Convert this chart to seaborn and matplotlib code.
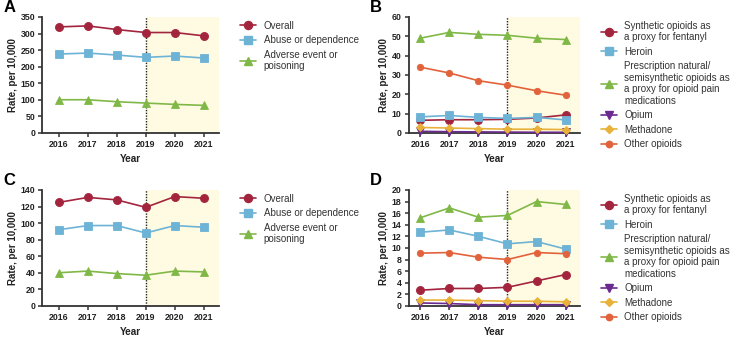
import pandas as pd
import seaborn as sns
import matplotlib.pyplot as plt
from matplotlib.lines import Line2D

# Data
years = [2016, 2017, 2018, 2019, 2020, 2021]

a_overall = [320, 323, 312, 303, 303, 293]
a_abuse = [238, 241, 235, 228, 232, 226]
a_adverse = [100, 100, 94, 90, 86, 83]

c_overall = [125, 131, 128, 119, 132, 130]
c_abuse = [92, 97, 97, 88, 97, 95]
c_adverse = [40, 42, 39, 37, 42, 41]

b_synthetic = [6.5, 6.8, 6.8, 7.0, 7.7, 9.3]
b_heroin = [8.3, 9.0, 8.0, 7.5, 8.0, 6.7]
b_prescription = [49, 52, 51, 50.5, 49, 48.3]
b_opium = [0.8, 0.6, 0.5, 0.4, 0.3, 0.3]
b_methadone = [2.8, 2.5, 2.2, 1.9, 1.9, 1.7]
b_other = [34, 31, 27, 24.7, 21.8, 19.5]

d_synthetic = [2.7, 3.0, 3.0, 3.2, 4.3, 5.4]
d_heroin = [12.7, 13.1, 12.0, 10.7, 11.1, 9.8]
d_prescription = [15.2, 16.9, 15.3, 15.6, 18.0, 17.5]
d_opium = [0.5, 0.4, 0.2, 0.2, 0.2, 0.2]
d_methadone = [1.0, 1.0, 0.9, 0.8, 0.8, 0.7]
d_other = [9.1, 9.2, 8.4, 8.0, 9.2, 9.0]

left_labels = ["Overall", "Abuse or dependence", "Adverse event or\npoisoning"]
right_labels = ["Synthetic opioids as\na proxy for fentanyl", "Heroin",
                "Prescription natural/\nsemisynthetic opioids as\na proxy for opioid pain\nmedications",
                "Opium", "Methadone", "Other opioids"]

RED = "#A3243D"
BLUE = "#6DB3D6"
GREEN = "#80B847"
PURPLE = "#6B2A90"
GOLD = "#E8B23A"
ORANGE = "#E2623B"

left_colors = [RED, BLUE, GREEN]
left_markers = ["o", "s", "^"]
right_colors = [RED, BLUE, GREEN, PURPLE, GOLD, ORANGE]
right_markers = ["o", "s", "^", "v", "D", "o"]
right_sizes = [5.8, 5.8, 5.8, 5.8, 3.6, 4.6]

sns.set_style("ticks")
plt.rcParams['font.family'] = ['Liberation Sans', 'DejaVu Sans']

fig = plt.figure(figsize=(7.39, 3.46), dpi=100)

boxes = {
    "A": [0.057, 0.616, 0.239, 0.335],
    "C": [0.057, 0.116, 0.239, 0.335],
    "B": [0.553, 0.616, 0.232, 0.335],
    "D": [0.553, 0.116, 0.232, 0.335],
}


def make_long(series, labels):
    rows = []
    for vals, lab in zip(series, labels):
        for y, v in zip(years, vals):
            rows.append({"Year": y, "Rate": v, "Series": lab})
    return pd.DataFrame(rows)


def draw_panel(key, series, labels, colors, markers, sizes, ymax, ystep, xlim):
    ax = fig.add_axes(boxes[key])
    df = make_long(series, labels)
    ax.axvspan(2019, xlim[1], color="#FFFBE3", zorder=0, lw=0)
    for (lab, col, mk, ms) in zip(labels, colors, markers, sizes):
        sub = df[df["Series"] == lab]
        sns.lineplot(data=sub, x="Year", y="Rate", color=col, marker=mk,
                     markersize=ms, markeredgecolor=col, markeredgewidth=0.6,
                     linewidth=1.2, ax=ax, legend=False, zorder=3, clip_on=False)
    ax.axvline(2019, color="#222222", linestyle=(0, (1, 1)), linewidth=1.0, zorder=2)
    ax.set_xlim(*xlim)
    ax.set_ylim(0, ymax)
    ax.set_xticks(years)
    ax.set_yticks(range(0, ymax + 1, ystep))
    ax.tick_params(labelsize=6.3, width=1.1, length=3, color="#333333", pad=2)
    for t in ax.get_xticklabels() + ax.get_yticklabels():
        t.set_fontweight("bold")
        t.set_color("#222222")
    ax.set_xlabel("Year", fontsize=7.2, fontweight="bold", color="#222222", labelpad=4)
    ax.set_ylabel("Rate, per 10,000", fontsize=7, fontweight="bold", color="#222222", labelpad=2)
    for s in ["top", "right"]:
        ax.spines[s].set_visible(False)
    for s in ["left", "bottom"]:
        ax.spines[s].set_linewidth(1.3)
        ax.spines[s].set_color("#333333")
    pos = ax.get_position()
    fig.text(pos.x0 - 0.052, pos.y1 + 0.028, key, fontsize=12, fontweight="bold",
             ha="left", va="center", color="black")
    handles = [Line2D([0], [0], color=c, marker=m, markersize=s, linewidth=1.2,
                      markeredgecolor=c) for c, m, s in zip(colors, markers, sizes)]
    ax.legend(handles, labels, loc="upper left", bbox_to_anchor=(1.1, 1.0),
              frameon=False, fontsize=7, handlelength=1.6, handletextpad=0.8,
              labelspacing=0.45, labelcolor="#333333", borderaxespad=0)
    return ax


draw_panel("A", [a_overall, a_abuse, a_adverse], left_labels, left_colors,
           left_markers, [5.8, 5.8, 5.8], 350, 50, (2015.42, 2021.52))
draw_panel("C", [c_overall, c_abuse, c_adverse], left_labels, left_colors,
           left_markers, [5.8, 5.8, 5.8], 140, 20, (2015.42, 2021.52))
draw_panel("B", [b_synthetic, b_heroin, b_prescription, b_opium, b_methadone, b_other],
           right_labels, right_colors, right_markers, right_sizes, 60, 10, (2015.6, 2021.5))
draw_panel("D", [d_synthetic, d_heroin, d_prescription, d_opium, d_methadone, d_other],
           right_labels, right_colors, right_markers, right_sizes, 20, 2, (2015.6, 2021.5))

fig.savefig("out.png", dpi=100)
